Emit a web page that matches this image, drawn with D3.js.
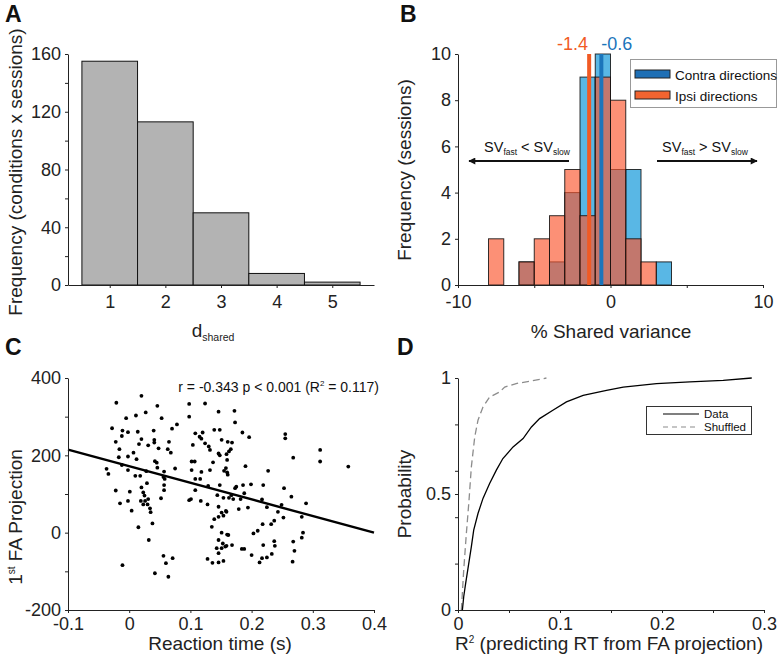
<!DOCTYPE html>
<html><head><meta charset="utf-8">
<script src="https://cdn.jsdelivr.net/npm/d3@7"></script>
<style>
body{margin:0;background:#fff}
svg{font-family:"Liberation Sans",Arial,Helvetica,sans-serif}
</style>
</head><body>
<svg id="fig" width="778" height="657"></svg>
<script>
// ---------- Panel A data ----------
const dsharedBins = [1, 2, 3, 4, 5];
const dsharedFreq = [155, 113, 50, 8, 2];
const aYTicks = [0, 20, 40, 60, 80, 100, 120, 140, 160];
const aYLabels = [0, 40, 80, 120, 160];

// ---------- Panel B data ----------
const svBinLeft = [-8, -7, -6, -5, -4, -3, -2, -1, 0, 1, 2, 3];
const contraCounts = [0, 0, 1, 0, 1, 4, 9, 10, 5, 5, 0, 1];
const ipsiCounts   = [2, 0, 1, 2, 3, 5, 3, 9, 8, 2, 1, 0];
const medianLabels = ["-1.4", "-0.6"];
const medianValues = [-1.4, -0.6];
const legendBLabels = ["Contra directions", "Ipsi directions"];
const bXTicks = [-10, -5, 0, 5, 10];
const bXLabels = [-10, 0, 10];
const bYTicks = [0, 2, 4, 6, 8, 10];

// ---------- Panel C data ----------
const scatterRtFa = [
 [0.020,354],[-0.021,336],[0.046,328],[0.011,303],[0.027,311],[-0.005,296],[0.053,296],[0.078,280],[0.070,269],[-0.028,270],
 [-0.011,264],[-0.002,260],[-0.012,250],[0.014,261],[0.040,264],[-0.022,235],[0.020,242],[0.016,229],[0.041,240],[0.041,233],
 [0.065,235],[-0.016,216],[0.031,226],[0.048,218],[0.063,216],[0.068,207],[0.007,207],[-0.017,195],[-0.002,197],[0.012,190],
 [0.042,185],[0.045,181],[-0.037,165],[-0.034,152],[-0.012,175],[-0.002,162],[0.010,147],[0.018,147],[0.028,159],[0.046,168],
 [0.057,158],[0.075,166],[0.056,144],
 [0.098,333],[0.124,334],[0.146,313],[0.098,300],[0.120,259],[0.108,257],[0.139,266],[0.148,266],[0.115,248],[0.118,243],
 [0.124,231],[0.104,227],[0.130,223],[0.151,240],[0.132,214],[0.146,205],[0.163,210],[0.102,184],[0.107,184],[0.137,182],
 [0.148,200],[0.155,160],[0.102,162],[0.118,157],[0.132,162],
 [0.172,315],[0.173,285],[0.185,259],[0.196,247],[0.255,255],[0.255,244],[0.312,214],[0.312,184],[0.268,194],[0.227,160],
 [0.190,172],[0.358,171],[0.161,235],[0.168,233],[0.166,216],[0.159,203],[0.160,188],[0.158,167],[0.160,156],[0.161,150],
 [0.058,139],[0.029,128],[0.020,117],[0.023,104],[0.025,96],[0.057,123],[0.057,110],[-0.022,109],[0.001,106],[-0.002,82],
 [-0.015,76],[0.019,82],[0.026,82],[0.031,87],[0.023,73],[0.030,73],[0.034,63],[0.035,53],[0.004,57],[0.052,89],
 [0.015,14],[0.038,24],[0.032,-19],[0.056,-60],[0.071,-66],[0.060,-79],[-0.011,-84],[0.042,-105],[0.064,-114],
 [0.108,139],[0.116,139],[0.108,110],[0.098,84],[0.101,87],[0.117,82],[0.129,121],[0.148,123],[0.144,97],[0.154,90],
 [0.128,73],[0.146,67],[0.158,56],[0.151,52],[0.146,41],[0.154,44],[0.139,35],[0.135,15],[0.151,0],[0.160,-5],
 [0.146,-19],[0.153,-28],[0.157,-36],[0.143,-40],[0.151,-40],[0.146,-53],[0.128,-68],[0.136,-78],[0.146,-77],[0.154,-73],
 [0.173,115],[0.175,119],[0.186,123],[0.199,125],[0.219,123],[0.253,115],[0.265,93],[0.289,76],[0.163,90],[0.170,87],
 [0.182,87],[0.188,102],[0.167,97],[0.159,54],[0.179,61],[0.194,65],[0.217,86],[0.225,66],[0.243,54],[0.249,72],
 [0.252,39],[0.282,41],[0.218,22],[0.232,22],[0.237,31],[0.203,-2],[0.210,5],[0.284,0],[0.282,-13],[0.162,-6],
 [0.159,-34],[0.168,-32],[0.184,-42],[0.188,-42],[0.219,-32],[0.237,-22],[0.238,-34],[0.268,-23],[0.270,-47],[0.200,-58],
 [0.217,-66],[0.225,-64],[0.233,-55],[0.213,-77],[0.267,-75]
];
const fitRt = [-0.1, 0.4];
const fitFa = [215, 0];
const statsText = "r = -0.343 p < 0.001 (R";
const statsTail = " = 0.117)";
const cXTicks = [-0.1, 0, 0.1, 0.2, 0.3, 0.4];
const cYTicks = [-200, -100, 0, 100, 200, 300, 400];
const cYLabels = [-200, 0, 200, 400];

// ---------- Panel D data ----------
const dataR2   = [0.0043,0.0056,0.0075,0.0098,0.0131,0.0154,0.0196,0.0245,0.031,0.0376,0.044,0.054,0.0638,0.072,0.080,0.093,0.1063,0.1227,0.1456,0.162,0.1946,0.2273,0.26,0.288];
const dataProb = [0,0.057,0.115,0.179,0.273,0.344,0.416,0.481,0.545,0.603,0.653,0.703,0.739,0.789,0.825,0.861,0.897,0.925,0.947,0.961,0.976,0.983,0.99,1.0];
const shufR2   = [0.0033,0.0056,0.0082,0.0108,0.0131,0.0164,0.0196,0.0245,0.031,0.041,0.0458,0.057,0.070,0.0867];
const shufProb = [0,0.172,0.33,0.473,0.617,0.746,0.818,0.875,0.918,0.94,0.961,0.976,0.986,1.0];
const legendDLabels = ["Data", "Shuffled"];
const dXTicks = [0, 0.05, 0.1, 0.15, 0.2, 0.25, 0.3];
const dXLabels = [0, 0.1, 0.2, 0.3];
const dYTicks = [0, 0.2, 0.4, 0.5, 0.6, 0.8, 1];
const dYLabels = [0, 0.5, 1];

// ---------- drawing ----------
const svg = d3.select("#fig");
const TICKFS = 18, LABFS = 19;
const numFmt = d => (Math.abs(d) < 1e-9 ? "0" : String(+d.toFixed(2)));
const near = (arr, d) => arr.some(v => Math.abs(v - d) < 1e-9);

function drawAxis(g, axisGen, ticks, labels, pad) {
  axisGen.tickValues(ticks).tickSize(3).tickSizeOuter(0).tickPadding(pad)
    .tickFormat(d => near(labels, d) ? numFmt(d) : "");
  g.call(axisGen);
  g.select(".domain").attr("stroke", "#222").attr("stroke-width", 1);
  g.selectAll(".tick line").attr("stroke", "#222");
  g.selectAll("text").attr("font-size", TICKFS).attr("fill", "#222")
    .attr("font-family", "'Liberation Sans', Arial, sans-serif");
}
function panelLetter(x, y, t) {
  svg.append("text").attr("x", x).attr("y", y).attr("font-size", 23)
    .attr("font-weight", "bold").attr("fill", "#111").text(t);
}
function yLabel(x, y, parts) {
  const t = svg.append("text").attr("transform", `translate(${x},${y}) rotate(-90)`)
    .attr("text-anchor", "middle").attr("font-size", LABFS).attr("fill", "#222");
  parts.forEach(p => {
    const s = t.append("tspan").text(p.t);
    if (p.sup) s.attr("font-size", 10).attr("baseline-shift", "super");
  });
}

// Panel A
{
  const x = d3.scaleLinear().domain([0.25, 5.75]).range([68, 374]);
  const y = d3.scaleLinear().domain([0, 160]).range([285, 54]);
  svg.append("g").selectAll("rect").data(dsharedBins).join("rect")
    .attr("x", (d) => x(d - 0.5)).attr("width", d => x(d + 0.5) - x(d - 0.5))
    .attr("y", (d, i) => y(dsharedFreq[i])).attr("height", (d, i) => y(0) - y(dsharedFreq[i]))
    .attr("fill", "#b3b3b3").attr("stroke", "#111").attr("stroke-width", 1);
  drawAxis(svg.append("g").attr("transform", "translate(0,285)"), d3.axisBottom(x), dsharedBins, dsharedBins, 7);
  drawAxis(svg.append("g").attr("transform", "translate(68,0)"), d3.axisLeft(y), aYTicks, aYLabels, 4);
  yLabel(22, 172, [{t: "Frequency (conditions x sessions)"}]);
  const xl = svg.append("text").attr("x", 213).attr("y", 337).attr("text-anchor", "middle")
    .attr("font-size", LABFS).attr("fill", "#222");
  xl.append("tspan").text("d");
  xl.append("tspan").attr("font-size", 10.5).attr("dy", 4).text("shared");
  panelLetter(5, 22, "A");
}

// Panel B
{
  const x = d3.scaleLinear().domain([-10, 10]).range([458, 763]);
  const y = d3.scaleLinear().domain([0, 10]).range([285, 54]);
  const blue = "#0091d7", orange = "#fa552d";
  const bars = (counts, color) => svg.append("g").selectAll("rect")
    .data(svBinLeft.map((b, i) => ({b, c: counts[i]})).filter(d => d.c > 0)).join("rect")
    .attr("x", d => x(d.b)).attr("width", d => x(d.b + 1) - x(d.b))
    .attr("y", d => y(d.c)).attr("height", d => y(0) - y(d.c))
    .attr("fill", color).attr("fill-opacity", 0.65)
    .attr("stroke", "#111").attr("stroke-opacity", 0.85).attr("stroke-width", 1);
  bars(contraCounts, blue);
  bars(ipsiCounts, orange);
  const lineCols = ["#f15a24", "#1b75bb"];
  medianValues.forEach((m, i) => {
    svg.append("line").attr("x1", x(m)).attr("x2", x(m)).attr("y1", y(0)).attr("y2", y(10))
      .attr("stroke", lineCols[i]).attr("stroke-width", 4);
    svg.append("text").attr("x", x(m) + (i === 0 ? -1 : 0)).attr("y", 50)
      .attr("text-anchor", i === 0 ? "end" : "start").attr("font-size", 18)
      .attr("fill", lineCols[i]).text(medianLabels[i]);
  });
  drawAxis(svg.append("g").attr("transform", "translate(0,285)"), d3.axisBottom(x), bXTicks, bXLabels, 7);
  drawAxis(svg.append("g").attr("transform", "translate(458,0)"), d3.axisLeft(y), bYTicks, bYTicks, 4);
  // legend
  svg.append("rect").attr("x", 630.5).attr("y", 59.5).attr("width", 146).attr("height", 48)
    .attr("fill", "#fff").attr("stroke", "#999");
  const legCols = ["#1e6fb5", "#f26430"];
  legendBLabels.forEach((t, i) => {
    svg.append("rect").attr("x", 635).attr("y", 70 + i * 21).attr("width", 35).attr("height", 8)
      .attr("fill", legCols[i]).attr("stroke", "#222").attr("stroke-width", 1);
    svg.append("text").attr("x", 675).attr("y", 80 + i * 21).attr("font-size", 13.5)
      .attr("fill", "#111").text(t);
  });
  // arrows
  const defs = svg.append("defs");
  defs.append("marker").attr("id", "ah").attr("viewBox", "0 0 10 10").attr("refX", 9).attr("refY", 5)
    .attr("markerWidth", 9).attr("markerHeight", 7).attr("markerUnits", "userSpaceOnUse").attr("orient", "auto")
    .append("path").attr("d", "M0,0 L10,5 L0,10 z").attr("fill", "#111");
  svg.append("line").attr("x1", 569).attr("x2", 469).attr("y1", 161).attr("y2", 161)
    .attr("stroke", "#111").attr("stroke-width", 2).attr("marker-end", "url(#ah)");
  svg.append("line").attr("x1", 657).attr("x2", 757).attr("y1", 161).attr("y2", 161)
    .attr("stroke", "#111").attr("stroke-width", 2).attr("marker-end", "url(#ah)");
  const sv = (xc, sub1, op, sub2) => {
    const t = svg.append("text").attr("x", xc).attr("y", 152).attr("text-anchor", "middle")
      .attr("font-size", 14.5).attr("fill", "#111");
    t.append("tspan").text("SV");
    t.append("tspan").attr("font-size", 8.5).attr("dy", 3).text(sub1);
    t.append("tspan").attr("dy", -3).text(" " + op + " SV");
    t.append("tspan").attr("font-size", 8.5).attr("dy", 3).text(sub2);
  };
  sv(527, "fast", "<", "slow");
  sv(705, "fast", ">", "slow");
  yLabel(411, 170, [{t: "Frequency (sessions)"}]);
  svg.append("text").attr("x", 611).attr("y", 338).attr("text-anchor", "middle")
    .attr("font-size", LABFS).attr("fill", "#222").text("% Shared variance");
  panelLetter(400, 22, "B");
}

// Panel C
{
  const x = d3.scaleLinear().domain([-0.1, 0.4]).range([68, 374]);
  const y = d3.scaleLinear().domain([-200, 400]).range([610, 378]);
  svg.append("g").selectAll("circle").data(scatterRtFa).join("circle")
    .attr("cx", d => x(d[0])).attr("cy", d => y(d[1])).attr("r", 1.9).attr("fill", "#000");
  svg.append("line").attr("x1", x(fitRt[0])).attr("y1", y(fitFa[0]))
    .attr("x2", x(fitRt[1])).attr("y2", y(fitFa[1]))
    .attr("stroke", "#000").attr("stroke-width", 2.4);
  drawAxis(svg.append("g").attr("transform", "translate(0,610)"), d3.axisBottom(x), cXTicks, cXTicks, 4);
  drawAxis(svg.append("g").attr("transform", "translate(68,0)"), d3.axisLeft(y), cYTicks, cYLabels, 4);
  const st = svg.append("text").attr("x", 379).attr("y", 392).attr("text-anchor", "end")
    .attr("font-size", 14).attr("fill", "#111");
  st.append("tspan").text(statsText);
  st.append("tspan").attr("font-size", 8).attr("dy", -6).text("2");
  st.append("tspan").attr("dy", 6).text(" " + statsTail);
  const yl = svg.append("text").attr("transform", "translate(22,517) rotate(-90)")
    .attr("text-anchor", "middle").attr("font-size", LABFS).attr("fill", "#222");
  yl.append("tspan").text("1");
  yl.append("tspan").attr("font-size", 10).attr("dy", -7).text("st");
  yl.append("tspan").attr("dy", 7).text(" FA Projection");
  svg.append("text").attr("x", 220).attr("y", 650).attr("text-anchor", "middle")
    .attr("font-size", LABFS).attr("fill", "#222").text("Reaction time (s)");
  panelLetter(5, 355, "C");
}

// Panel D
{
  const x = d3.scaleLinear().domain([0, 0.3]).range([458, 764]);
  const y = d3.scaleLinear().domain([0, 1]).range([610, 378]);
  const line = d3.line().x(d => x(d[0])).y(d => y(d[1]));
  svg.append("path").datum(shufR2.map((v, i) => [v, shufProb[i]])).attr("d", line)
    .attr("fill", "none").attr("stroke", "#8c8c8c").attr("stroke-width", 1.3).attr("stroke-dasharray", "7,4");
  svg.append("path").datum(dataR2.map((v, i) => [v, dataProb[i]])).attr("d", line)
    .attr("fill", "none").attr("stroke", "#000").attr("stroke-width", 1.3);
  drawAxis(svg.append("g").attr("transform", "translate(0,610)"), d3.axisBottom(x), dXTicks, dXLabels, 4);
  drawAxis(svg.append("g").attr("transform", "translate(458,0)"), d3.axisLeft(y), dYTicks, dYLabels, 4);
  // legend
  svg.append("rect").attr("x", 646.5).attr("y", 406.5).attr("width", 105).attr("height", 28)
    .attr("fill", "#fff").attr("stroke", "#333");
  const styles = [{c: "#000", d: null}, {c: "#8c8c8c", d: "5,4"}];
  legendDLabels.forEach((t, i) => {
    svg.append("line").attr("x1", 663).attr("x2", 699).attr("y1", 414 + i * 13).attr("y2", 414 + i * 13)
      .attr("stroke", styles[i].c).attr("stroke-width", 1.2).attr("stroke-dasharray", styles[i].d);
    svg.append("text").attr("x", 704).attr("y", 418 + i * 13).attr("font-size", 11.5)
      .attr("fill", "#111").text(t);
  });
  yLabel(411, 494, [{t: "Probability"}]);
  const xl = svg.append("text").attr("x", 609).attr("y", 650).attr("text-anchor", "middle")
    .attr("font-size", LABFS).attr("fill", "#222");
  xl.append("tspan").text("R");
  xl.append("tspan").attr("font-size", 10).attr("dy", -7).text("2");
  xl.append("tspan").attr("dy", 7).text(" (predicting RT from FA projection)");
  panelLetter(397, 355, "D");
}
</script>
</body></html>
